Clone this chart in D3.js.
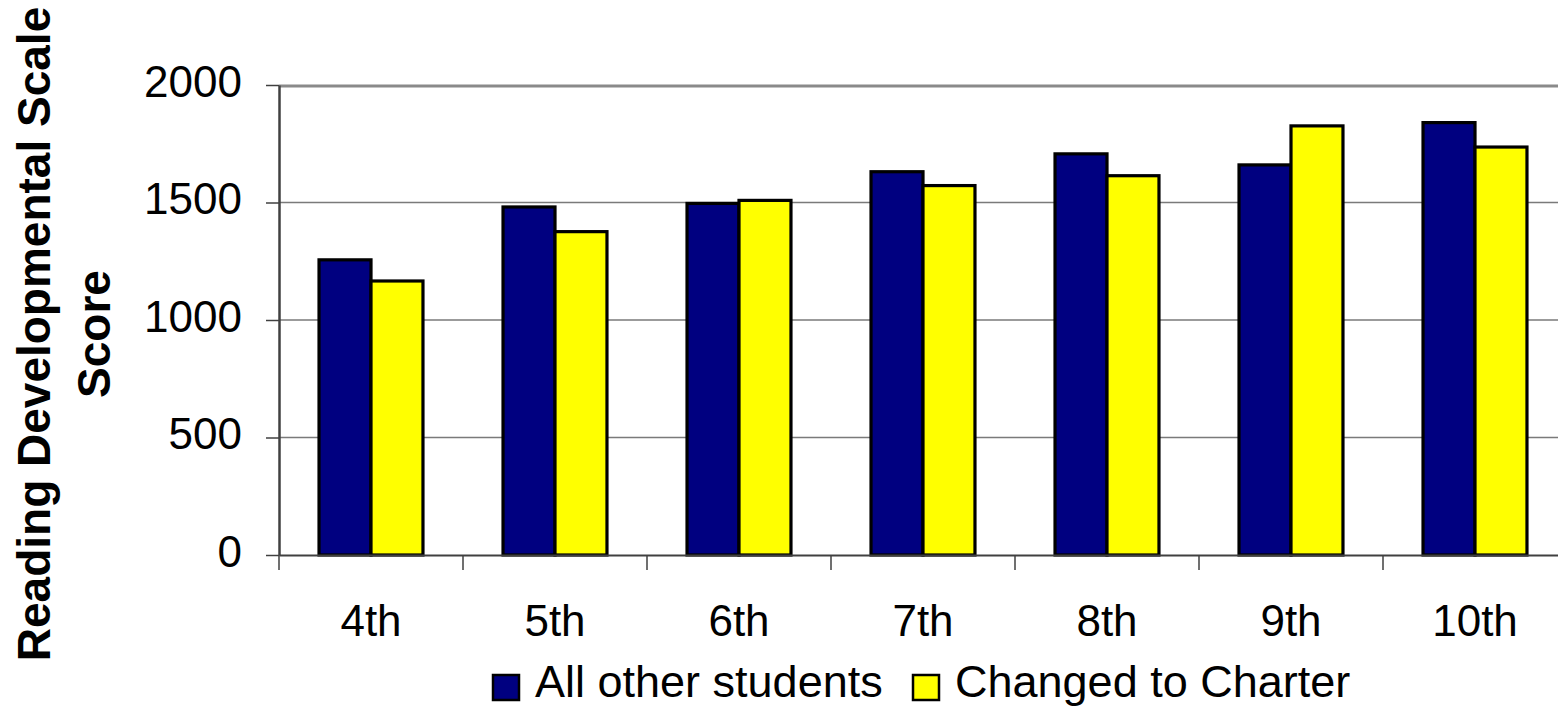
<!DOCTYPE html>
<html>
<head>
<meta charset="utf-8">
<script src="https://cdn.jsdelivr.net/npm/d3@7"></script>
<style>
  html, body { margin: 0; padding: 0; background: #fff; overflow: hidden; }
  svg { display: block; font-family: Arial, "Liberation Sans", sans-serif; }
</style>
</head>
<body>
<svg id="chart" width="1558" height="707"></svg>
<script>
const categories = ["4th", "5th", "6th", "7th", "8th", "9th", "10th"];
const seriesNames = ["All other students", "Changed to Charter"];
const allOther = [1256, 1481, 1496, 1631, 1707, 1660, 1840];
const charter = [1166, 1376, 1509, 1572, 1614, 1826, 1736];
const yTicks = [0, 500, 1000, 1500, 2000];
const colors = ["#000080", "#FFFF00"];

(function () {
const svg = d3.select("#chart");
const pLeft = 279, pRight = 279 + 7 * 184, pTop = 85, pBottom = 555;

const x = d3.scaleBand().domain(categories).range([pLeft, pRight]).padding(0);
const xSub = d3.scaleBand().domain(seriesNames).range([0, x.bandwidth()])
  .paddingInner(0).paddingOuter(0.77);
const y = d3.scaleLinear().domain([0, 2000]).range([pBottom, pTop]);

// gridlines
svg.append("g").selectAll("line").data(yTicks.filter(d => d > 0 && d < 2000)).join("line")
  .attr("x1", pLeft).attr("x2", pRight)
  .attr("y1", d => y(d)).attr("y2", d => y(d))
  .attr("stroke", "#7a7a7a").attr("stroke-width", 1.5);
// top border
svg.append("line").attr("x1", pLeft).attr("x2", pRight)
  .attr("y1", y(2000) + 1).attr("y2", y(2000) + 1)
  .attr("stroke", "#8a8a8a").attr("stroke-width", 3);

// bars
const data = categories.map((c, i) => ({ cat: c, vals: [allOther[i], charter[i]] }));
const groups = svg.append("g").selectAll("g").data(data).join("g")
  .attr("transform", d => `translate(${x(d.cat)},0)`);
groups.selectAll("rect").data(d => d.vals.map((v, j) => ({ v, s: seriesNames[j], j }))).join("rect")
  .attr("x", d => xSub(d.s))
  .attr("width", xSub.bandwidth())
  .attr("y", d => y(d.v))
  .attr("height", d => y(0) - y(d.v))
  .attr("fill", d => colors[d.j])
  .attr("stroke", "#000").attr("stroke-width", 3.2);

// y axis
const yAxis = d3.axisLeft(y).tickValues(yTicks).tickFormat(d3.format("d"))
  .tickSize(13).tickPadding(24).tickSizeOuter(0);
const gy = svg.append("g").attr("transform", `translate(${pLeft},0)`).call(yAxis);
gy.select(".domain").attr("stroke", "#404040").attr("stroke-width", 2.5);
gy.selectAll(".tick line").attr("stroke", "#404040").attr("stroke-width", 1.5);
gy.selectAll(".tick text").attr("font-size", 44).attr("fill", "#000")
  .attr("font-family", "Arial, 'Liberation Sans', sans-serif").attr("dy", 11);

// x axis
const xAxis = d3.axisBottom(x).tickSize(0).tickPadding(0).tickSizeOuter(0);
const gx = svg.append("g").attr("transform", `translate(0,${pBottom})`).call(xAxis);
gx.select(".domain").attr("stroke", "#404040").attr("stroke-width", 2);
gx.selectAll(".tick text").attr("font-size", 44).attr("fill", "#000")
  .attr("font-family", "Arial, 'Liberation Sans', sans-serif")
  .attr("y", 81).attr("dy", 0);
// category boundary ticks
const bounds = categories.map(c => x(c)).concat([pRight]);
svg.append("g").selectAll("line").data(bounds).join("line")
  .attr("x1", d => d).attr("x2", d => d)
  .attr("y1", pBottom).attr("y2", pBottom + 15)
  .attr("stroke", "#404040").attr("stroke-width", 1.5);

// y title
const title = svg.append("text")
  .attr("transform", "translate(50,334) rotate(-90)")
  .attr("text-anchor", "middle")
  .attr("font-size", 46).attr("font-weight", "bold").attr("fill", "#000");
title.append("tspan").attr("x", 0).attr("y", 0).text("Reading Developmental Scale");
title.append("tspan").attr("x", 0).attr("y", 60).text("Score");

// legend
const legend = svg.append("g");
const lx = [493, 913];
seriesNames.forEach((s, i) => {
  legend.append("rect").attr("x", lx[i]).attr("y", 675).attr("width", 26).attr("height", 25)
    .attr("fill", colors[i]).attr("stroke", "#000").attr("stroke-width", 2.5);
  legend.append("text").attr("x", lx[i] + 42).attr("y", 697)
    .attr("font-size", 45).attr("fill", "#000").text(s);
});
})();
</script>
</body>
</html>
